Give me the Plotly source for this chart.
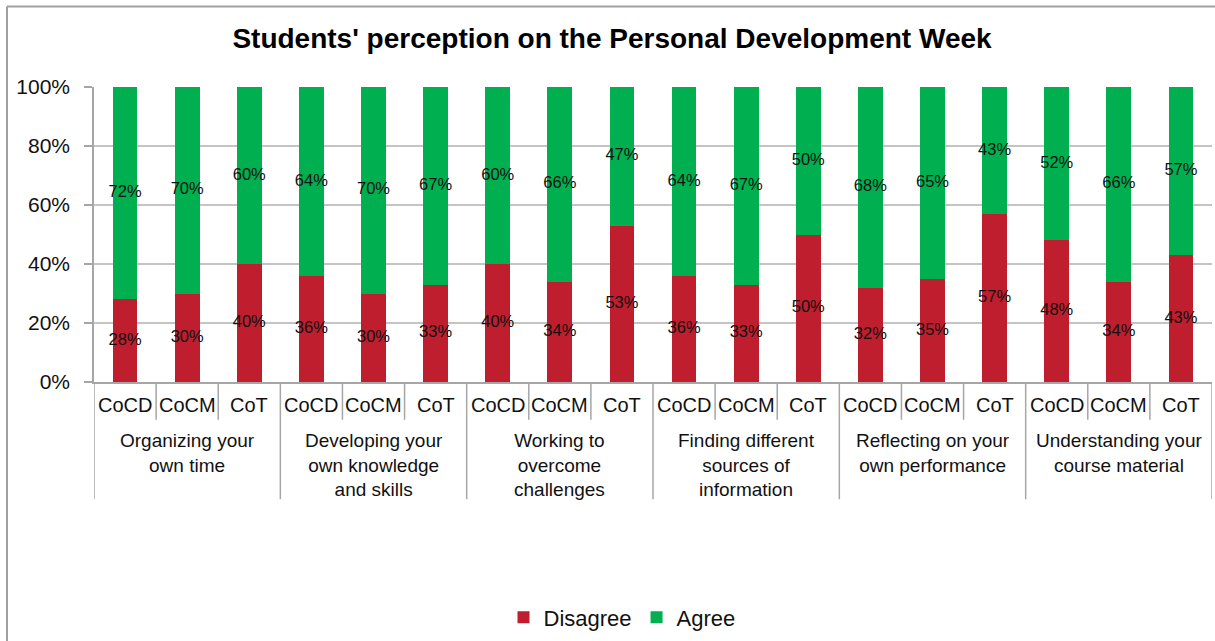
import plotly.graph_objects as go

# Survey results: share of students disagreeing / agreeing, per college and topic
groups = [
    "Organizing your<br>own time",
    "Developing your<br>own knowledge<br>and skills",
    "Working to<br>overcome<br>challenges",
    "Finding different<br>sources of<br>information",
    "Reflecting on your<br>own performance",
    "Understanding your<br>course material",
]
colleges = ["CoCD", "CoCM", "CoT"]

disagree = [28, 30, 40, 36, 30, 33, 40, 34, 53, 36, 33, 50, 32, 35, 57, 48, 34, 43]
agree = [72, 70, 60, 64, 70, 67, 60, 66, 47, 64, 67, 50, 68, 65, 43, 52, 66, 57]

y_ticks = [0, 20, 40, 60, 80, 100]

RED = "#BE1E2D"
GREEN = "#00AF50"
GRID = "#C4C4C4"
AXIS = "#A6A6A6"
FONT = "Liberation Sans, Arial, sans-serif"

W, H = 1215, 641
L, R, T, B = 94, 3, 87, 257
plot_w = W - L - R
plot_h = H - T - B


def px_x(px):
    return (px - L) / plot_w


def px_y(py):
    return (H - B - py) / plot_h


n = len(disagree)
xs = list(range(n))
sub_labels = [colleges[i % len(colleges)] for i in range(n)]

fig = go.Figure()
fig.add_trace(go.Bar(x=xs, y=disagree, name="Disagree", marker=dict(color=RED, line=dict(width=0)), width=0.4))
fig.add_trace(go.Bar(x=xs, y=agree, name="Agree", marker=dict(color=GREEN, line=dict(width=0)), width=0.4))

# value labels centred in each segment
fig.add_trace(go.Scatter(
    x=xs, y=[d / 2 for d in disagree], mode="text",
    text=[f"{d}%" for d in disagree], textfont=dict(family=FONT, size=16.5, color="#111111"),
    showlegend=False, hoverinfo="skip"))
fig.add_trace(go.Scatter(
    x=xs, y=[d + a / 2 for d, a in zip(disagree, agree)], mode="text",
    text=[f"{a}%" for a in agree], textfont=dict(family=FONT, size=16.5, color="#111111"),
    showlegend=False, hoverinfo="skip"))

shapes = []
annotations = []

# category separators below the axis: short between colleges, long between topics
for k in range(n + 1):
    xpos = k - 0.5
    long = (k % len(colleges) == 0)
    shapes.append(dict(type="line", xref="x", yref="paper", x0=xpos, x1=xpos,
                       y0=0, y1=px_y(502 if long else 422),
                       line=dict(color=AXIS, width=1.5)))

for i, lab in enumerate(sub_labels):
    annotations.append(dict(x=i, y=px_y(407), xref="x", yref="paper", text=lab,
                            showarrow=False, yanchor="middle", xanchor="center",
                            font=dict(family=FONT, size=20, color="#111111")))

for g, lab in enumerate(groups):
    annotations.append(dict(x=g * len(colleges) + 1, y=px_y(430), xref="x", yref="paper",
                            text=lab, showarrow=False, yanchor="top", xanchor="center",
                            align="center",
                            font=dict(family=FONT, size=19, color="#111111")))

# outer chart frame
shapes.append(dict(type="line", xref="paper", yref="paper", x0=px_x(7), x1=px_x(W + 5),
                   y0=px_y(6), y1=px_y(6), line=dict(color="#A0A0A0", width=2)))
shapes.append(dict(type="line", xref="paper", yref="paper", x0=px_x(7), x1=px_x(7),
                   y0=px_y(6), y1=px_y(H + 5), line=dict(color="#A0A0A0", width=2)))

fig.update_layout(
    width=W, height=H,
    margin=dict(l=L, r=R, t=T, b=B),
    barmode="stack",
    plot_bgcolor="white", paper_bgcolor="white",
    title=dict(text="<b>Students' perception on the Personal Development Week</b>",
               x=px_x(612), xref="paper", xanchor="center",
               y=1 - 38 / H, yanchor="middle",
               font=dict(family=FONT, size=28, color="#000000")),
    showlegend=True,
    legend=dict(orientation="h", x=px_x(622), xanchor="center", y=px_y(621), yanchor="middle",
                font=dict(family=FONT, size=22, color="#111111"), itemwidth=30,
                traceorder="normal"),
    shapes=shapes,
    annotations=annotations,
    bargap=0.6,
)

fig.update_xaxes(range=[-0.5, n - 0.5], showticklabels=False, ticks="",
                 showgrid=False, zeroline=False, showline=True, linecolor=AXIS, linewidth=1.5)
fig.update_yaxes(range=[0, 100], tickvals=y_ticks, ticktext=[f"{v}%" for v in y_ticks],
                 ticks="outside", ticklen=8, tickcolor=AXIS, tickwidth=1.5,
                 ticklabelstandoff=10,
                 showgrid=True, gridcolor=GRID, gridwidth=1.5, zeroline=False,
                 showline=True, linecolor=AXIS, linewidth=1.5,
                 tickfont=dict(family=FONT, size=21, color="#111111"))

fig.write_html("out.html")
